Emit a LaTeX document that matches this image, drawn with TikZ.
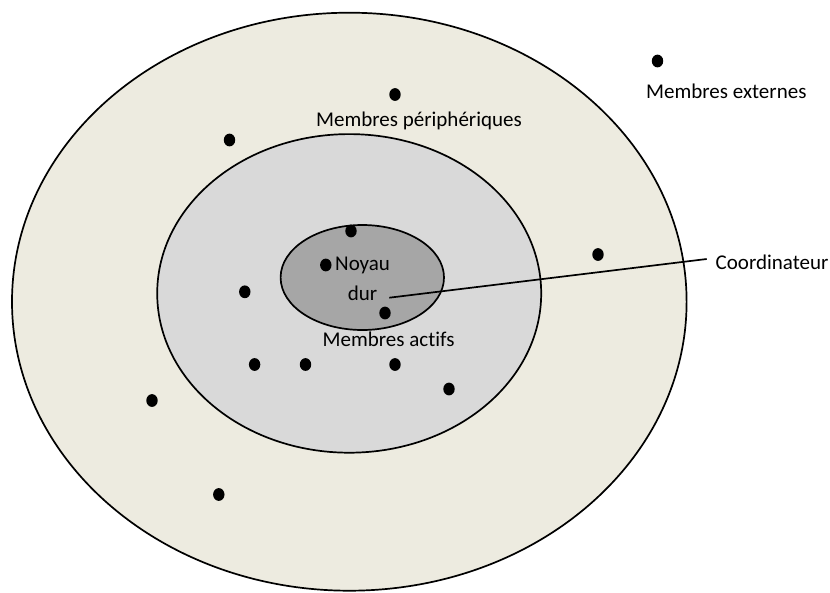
\documentclass[tikz,border=0pt]{standalone}
\usepackage{fontspec}
\setmainfont[Ligatures={NoCommon,NoContextual}]{Carlito}
\usetikzlibrary{shapes.geometric}
\definecolor{outerfill}{HTML}{EDEBE0}
\definecolor{midfill}{HTML}{D9D9D9}
\definecolor{innerfill}{HTML}{A6A6A6}
\tikzset{
  ring/.style={draw=black, line width=1.7pt},
  member/.style={fill=black, draw=none},
  lbl/.style={font=\fontsize{21}{25}\selectfont, inner sep=0pt, anchor=base},
}
\begin{document}
\begin{tikzpicture}[x=1pt,y=-1pt]
\useasboundingbox (0,0) rectangle (830,592);
\fill[white] (0,0) rectangle (830,592);
% ellipses
\draw[ring, fill=outerfill] (349.3,301.7) ellipse [x radius=337.3, y radius=289];
\draw[ring, fill=midfill] (349.2,293.4) ellipse [x radius=192, y radius=159.3];
\draw[ring, fill=innerfill] (362.3,277.5) ellipse [x radius=81.7, y radius=52.5];
% labels
\node[lbl] (peri) at (419,126.5) {Membres périphériques};
\node[lbl, anchor=base west] (ext) at (646,98.3) {Membres externes};
\node[lbl, anchor=base west] (coordlbl) at (715.5,269) {Coordinateur};
\node[lbl, anchor=base west] (noyau) at (335,270.7) {Noyau};
\node[lbl, anchor=base west] (dur) at (347.7,300.7) {dur};
\node[lbl, anchor=base west] (actifs) at (322.5,346.7) {Membres ac\kern0pt tifs};
% connector
\coordinate (cstart) at (389.3,297.7);
\coordinate (cend) at (706.7,259);
\draw[line width=1.7pt] (cstart) -- (cend);
% members
\foreach \n/\x/\y in {m1/395/94.5, m2/229.5/140, m3/657.5/61, m4/351/231, m5/325.8/265,
  m6/244.8/291.8, m7/385/313, m8/598/254.5, m9/254.6/364.5, m10/305.5/364.5,
  m11/395/364.5, m12/449/389, m13/152/400.5, m14/218.8/494.5}{
  \coordinate (\n) at (\x,\y);
  \fill[member] (\n) ellipse [x radius=5.7, y radius=6.4];
}
\end{tikzpicture}
\end{document}
